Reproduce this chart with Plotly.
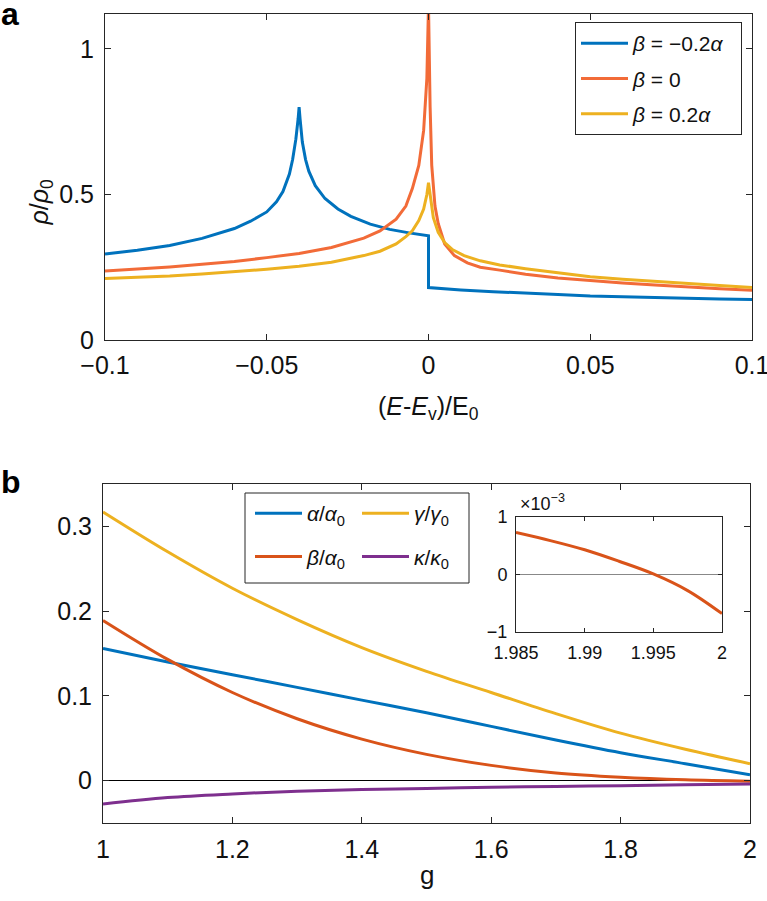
import plotly.graph_objects as go

# ---- panel a: density of states ----
e_neg = [-0.1, -0.09, -0.08, -0.07, -0.06, -0.055, -0.05, -0.047, -0.045, -0.043, -0.042,
         -0.041, -0.0403, -0.04, -0.0397, -0.039, -0.038, -0.037, -0.035, -0.032, -0.028,
         -0.024, -0.018, -0.012, -0.006, 0.0, 0.0, 0.005, 0.01, 0.02, 0.03, 0.04, 0.05,
         0.06, 0.07, 0.08, 0.09, 0.1]
rho_neg = [0.295, 0.308, 0.325, 0.349, 0.383, 0.408, 0.44, 0.475, 0.51, 0.57, 0.62,
           0.69, 0.76, 0.80, 0.76, 0.68, 0.62, 0.58, 0.53, 0.486, 0.45,
           0.425, 0.398, 0.38, 0.368, 0.358, 0.18, 0.175, 0.172, 0.166, 0.160, 0.156, 0.151,
           0.148, 0.145, 0.143, 0.141, 0.139]

e_zero = [-0.1, -0.09, -0.08, -0.07, -0.06, -0.05, -0.04, -0.03, -0.02, -0.015, -0.01,
          -0.007, -0.005, -0.003, -0.0015, -0.0005, 0.0, 0.0005, 0.001, 0.002, 0.003,
          0.005, 0.008, 0.012, 0.016, 0.022, 0.03, 0.04, 0.05, 0.06, 0.07, 0.08, 0.09, 0.1]
rho_zero = [0.237, 0.243, 0.251, 0.26, 0.27, 0.283, 0.297, 0.318, 0.35, 0.375, 0.415,
            0.46, 0.52, 0.6, 0.72, 0.9, 1.15, 0.8, 0.6, 0.46, 0.4,
            0.33, 0.29, 0.265, 0.25, 0.24, 0.226, 0.213, 0.204, 0.196, 0.189, 0.182, 0.176, 0.171]

e_pos = [-0.1, -0.09, -0.08, -0.07, -0.06, -0.05, -0.04, -0.03, -0.02, -0.015, -0.01,
         -0.007, -0.005, -0.003, -0.0015, -0.0005, 0.0, 0.0005, 0.0015, 0.003, 0.005,
         0.0075, 0.011, 0.016, 0.022, 0.03, 0.04, 0.05, 0.06, 0.07, 0.08, 0.09, 0.1]
rho_pos = [0.211, 0.215, 0.22, 0.227, 0.234, 0.243, 0.253, 0.267, 0.29, 0.305, 0.33,
           0.355, 0.375, 0.41, 0.45, 0.5, 0.54, 0.5, 0.42, 0.37, 0.335,
           0.31, 0.29, 0.272, 0.258, 0.245, 0.231, 0.217, 0.209, 0.201, 0.194, 0.187, 0.18]

# ---- panel b: couplings vs g ----
g = [1.0, 1.1, 1.2, 1.3, 1.4, 1.5, 1.6, 1.7, 1.8, 1.9, 2.0]
alpha = [0.156, 0.140, 0.125, 0.110, 0.095, 0.080, 0.064, 0.048, 0.033, 0.020, 0.007]
beta = [0.189, 0.143, 0.104, 0.073, 0.049, 0.031, 0.018, 0.009, 0.004, 0.001, -0.0007]
gamma = [0.317, 0.270, 0.227, 0.190, 0.157, 0.129, 0.104, 0.079, 0.056, 0.037, 0.020]
kappa = [-0.0275, -0.020, -0.0157, -0.0125, -0.0106, -0.0092, -0.0078, -0.0068, -0.0059, -0.005, -0.004]

# inset (beta/alpha0 in units of 1e-3)
g_in = [1.985, 1.9875, 1.99, 1.9925, 1.995, 1.9975, 2.0]
beta_in = [0.73, 0.59, 0.43, 0.23, 0.01, -0.28, -0.68]

BLUE, ORANGE_A, RED, YELLOW, PURPLE = "#0072BD", "#F26B38", "#D95319", "#EDB120", "#7E2F8E"
FONT = "Liberation Sans, Arial, sans-serif"
W, H = 767, 901


def px(x):
    return x / W


def py(y):
    return 1 - y / H


fig = go.Figure()

# panel a
fig.add_trace(go.Scatter(x=e_neg, y=rho_neg, mode="lines", line=dict(color=BLUE, width=3),
                         name="<i>β</i> = −0.2<i>α</i>\u00a0\u00a0", legend="legend3", legendgroup="a1",
                         xaxis="x", yaxis="y"))
fig.add_trace(go.Scatter(x=e_zero, y=rho_zero, mode="lines", line=dict(color=ORANGE_A, width=3),
                         name="<i>β</i> = 0", legend="legend3", legendgroup="a2",
                         xaxis="x", yaxis="y"))
fig.add_trace(go.Scatter(x=e_pos, y=rho_pos, mode="lines", line=dict(color=YELLOW, width=3),
                         name="<i>β</i> = 0.2<i>α</i>", legend="legend3", legendgroup="a3",
                         xaxis="x", yaxis="y"))

# panel b
fig.add_trace(go.Scatter(x=g, y=alpha, mode="lines", line=dict(color=BLUE, width=3, shape="spline"),
                         name="<i>α</i>/<i>α</i><sub>0</sub>", legend="legend", legendgroup="b1",
                         xaxis="x2", yaxis="y2"))
fig.add_trace(go.Scatter(x=g, y=beta, mode="lines", line=dict(color=RED, width=3, shape="spline"),
                         name="<i>β</i>/<i>α</i><sub>0</sub>", legend="legend", legendgroup="b2",
                         xaxis="x2", yaxis="y2"))
fig.add_trace(go.Scatter(x=g, y=gamma, mode="lines", line=dict(color=YELLOW, width=3, shape="spline"),
                         name="<i>γ</i>/<i>γ</i><sub>0</sub>", legend="legend2", legendgroup="b3",
                         xaxis="x2", yaxis="y2"))
fig.add_trace(go.Scatter(x=g, y=kappa, mode="lines", line=dict(color=PURPLE, width=3, shape="spline"),
                         name="<i>κ</i>/<i>κ</i><sub>0</sub>", legend="legend2", legendgroup="b4",
                         xaxis="x2", yaxis="y2"))

# inset
fig.add_trace(go.Scatter(x=g_in, y=beta_in, mode="lines", line=dict(color=RED, width=3, shape="spline"),
                         showlegend=False, xaxis="x3", yaxis="y3"))

ax = dict(showline=True, linecolor="#262626", linewidth=1, mirror="ticks", ticks="inside",
          ticklen=6, tickcolor="#262626", showgrid=False, zeroline=False, automargin=False,
          ticklabeloverflow="allow", tickfont=dict(family=FONT, size=25, color="#111"))

fig.update_layout(
    width=W, height=H,
    margin=dict(l=0, r=0, t=0, b=0),
    paper_bgcolor="white", plot_bgcolor="white",
    font=dict(family=FONT, color="#111"),
    xaxis=dict(ax, domain=[px(105), px(752)], range=[-0.1, 0.1], anchor="y",
               tickvals=[-0.1, -0.05, 0, 0.05, 0.1], ticktext=["−0.1", "−0.05", "0", "0.05", "0.1"],
               ticklabelstandoff=3),
    yaxis=dict(ax, domain=[py(340), py(14)], range=[0, 1.12], anchor="x",
               tickvals=[0, 0.5, 1], ticktext=["0", "0.5", "1"], ticklabelstandoff=5),
    xaxis2=dict(ax, domain=[px(103), px(750)], range=[1, 2], anchor="y2",
                tickvals=[1, 1.2, 1.4, 1.6, 1.8, 2], ticktext=["1", "1.2", "1.4", "1.6", "1.8", "2"],
                ticklabelstandoff=4),
    yaxis2=dict(ax, domain=[py(823), py(484)], range=[-0.05, 0.35], anchor="x2",
                tickvals=[0, 0.1, 0.2, 0.3], ticktext=["0", "0.1", "0.2", "0.3"],
                zeroline=True, zerolinecolor="black", zerolinewidth=1, ticklabelstandoff=5),
    xaxis3=dict(ax, domain=[px(516), px(722)], range=[1.985, 2], anchor="y3",
                tickvals=[1.985, 1.99, 1.995, 2], ticktext=["1.985", "1.99", "1.995", "2"],
                tickfont=dict(family=FONT, size=18, color="#111"), ticklen=4, ticklabelstandoff=4),
    yaxis3=dict(ax, domain=[py(632), py(517)], range=[-1, 1], anchor="x3",
                tickvals=[-1, 0, 1], ticktext=["−1", "0", "1"],
                tickfont=dict(family=FONT, size=18, color="#111"), ticklen=4, ticklabelstandoff=4,
                zeroline=True, zerolinecolor="#888", zerolinewidth=1),
    legend3=dict(x=px(575), y=py(22), xanchor="left", yanchor="top", bgcolor="white",
                 bordercolor="#262626", borderwidth=1, itemwidth=47, tracegroupgap=5,
                 font=dict(family=FONT, size=21, color="#111")),
    legend=dict(x=px(250), y=py(493), xanchor="left", yanchor="top", bgcolor="rgba(0,0,0,0)",
                borderwidth=0, itemwidth=47, tracegroupgap=13,
                font=dict(family=FONT, size=21, color="#111")),
    legend2=dict(x=px(357), y=py(493), xanchor="left", yanchor="top", bgcolor="rgba(0,0,0,0)",
                 borderwidth=0, itemwidth=47, tracegroupgap=13,
                 font=dict(family=FONT, size=21, color="#111")),
    shapes=[dict(type="rect", xref="paper", yref="paper", x0=px(245), x1=px(469),
                 y0=py(583), y1=py(493), line=dict(color="#262626", width=1),
                 fillcolor="white", layer="above")],
    annotations=[
        dict(text="<b>a</b>", x=px(-1), y=py(14), xref="paper", yref="paper", xanchor="left",
             yanchor="middle", showarrow=False, font=dict(family=FONT, size=32, color="black")),
        dict(text="<b>b</b>", x=px(-1), y=py(482), xref="paper", yref="paper", xanchor="left",
             yanchor="middle", showarrow=False, font=dict(family=FONT, size=32, color="black")),
        dict(text="(<i>E</i>-<i>E</i><sub>v</sub>)/E<sub>0</sub>", x=px(428), y=py(408),
             xref="paper", yref="paper", showarrow=False, font=dict(family=FONT, size=25)),
        dict(text="<i>ρ</i>/<i>ρ</i><sub>0</sub>", x=px(22), y=py(177), textangle=-90,
             xref="paper", yref="paper", showarrow=False, font=dict(family=FONT, size=25)),
        dict(text="g", x=px(427), y=py(892), xref="paper", yref="paper", showarrow=False,
             font=dict(family=FONT, size=26)),
        dict(text="×10<sup>−3</sup>", x=px(518), y=py(516), xref="paper", yref="paper",
             xanchor="left", yanchor="bottom", showarrow=False, font=dict(family=FONT, size=18)),
    ],
)

fig.write_html("out.html", config={"displayModeBar": False},
               post_script="document.body.style.margin='0';")
